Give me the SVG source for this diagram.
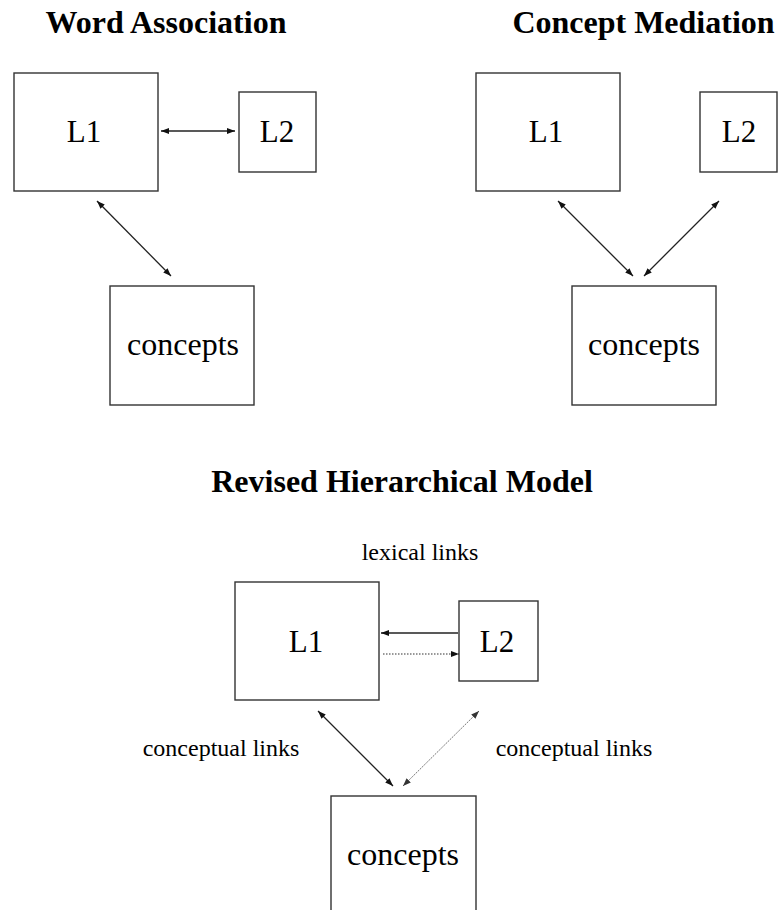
<svg xmlns="http://www.w3.org/2000/svg" width="779" height="910" viewBox="0 0 779 910">
  <defs>
    <marker id="tip" viewBox="0 0 8 6" refX="8" refY="3" markerWidth="8" markerHeight="6" markerUnits="userSpaceOnUse" orient="auto-start-reverse">
      <path d="M0,0 L8,3 L0,6 z" fill="#111"/>
    </marker>
    <marker id="tipGray" viewBox="0 0 8 6" refX="8" refY="3" markerWidth="8" markerHeight="6" markerUnits="userSpaceOnUse" orient="auto-start-reverse">
      <path d="M0,0 L8,3 L0,6 z" fill="#333"/>
    </marker>
  </defs>
  <style>
    .box { fill: #ffffff; stroke: #333333; stroke-width: 1.4; }
    .title { font-family: "Liberation Serif", "Times New Roman", serif; font-weight: bold; font-size: 32px; fill: #000; text-anchor: middle; }
    .lbl { font-family: "Liberation Serif", "Times New Roman", serif; font-size: 31px; fill: #000; text-anchor: middle; }
    .big { font-family: "Liberation Serif", "Times New Roman", serif; font-size: 32px; fill: #000; text-anchor: middle; }
    .note { font-family: "Liberation Serif", "Times New Roman", serif; font-size: 24px; fill: #000; text-anchor: middle; }
    .link { stroke: #222; stroke-width: 1.3; fill: none; marker-start: url(#tip); marker-end: url(#tip); }
    .faint { stroke: #777; stroke-width: 1; stroke-dasharray: 2 1; fill: none; marker-start: url(#tipGray); marker-end: url(#tipGray); }
    .one { stroke: #222; stroke-width: 1.3; fill: none; marker-end: url(#tip); }
    .dotted { stroke: #333; stroke-width: 1.2; stroke-dasharray: 1.5 1.5; fill: none; marker-end: url(#tip); }
  </style>
  <rect width="779" height="910" fill="#ffffff"/>

  <!-- Titles -->
  <text class="title" x="166" y="33">Word Association</text>
  <text class="title" x="643.5" y="33">Concept Mediation</text>
  <text class="title" x="402" y="492">Revised Hierarchical Model</text>

  <!-- Word Association model -->
  <g id="wa-l1">
    <rect class="box" x="14" y="73" width="144" height="118"/>
    <text class="lbl" x="84" y="142">L1</text>
  </g>
  <g id="wa-l2">
    <rect class="box" x="239" y="92" width="77" height="80"/>
    <text class="lbl" x="277" y="142">L2</text>
  </g>
  <g id="wa-concepts">
    <rect class="box" x="110" y="286" width="144" height="119"/>
    <text class="big" x="183" y="355">concepts</text>
  </g>

  <!-- Concept Mediation model -->
  <g id="cm-l1">
    <rect class="box" x="476" y="73" width="144" height="118"/>
    <text class="lbl" x="546" y="142">L1</text>
  </g>
  <g id="cm-l2">
    <rect class="box" x="700" y="92" width="77" height="80"/>
    <text class="lbl" x="739" y="142">L2</text>
  </g>
  <g id="cm-concepts">
    <rect class="box" x="572" y="286" width="144" height="119"/>
    <text class="big" x="644" y="355">concepts</text>
  </g>

  <!-- Revised Hierarchical Model -->
  <g id="rhm-l1">
    <rect class="box" x="235" y="582" width="144" height="118"/>
    <text class="lbl" x="306" y="652">L1</text>
  </g>
  <g id="rhm-l2">
    <rect class="box" x="459" y="601" width="79" height="80"/>
    <text class="lbl" x="497" y="652">L2</text>
  </g>
  <g id="rhm-concepts">
    <rect class="box" x="331" y="796" width="145" height="130"/>
    <text class="big" x="403" y="865">concepts</text>
  </g>
  <text class="note" x="420" y="560">lexical links</text>
  <text class="note" x="221" y="756">conceptual links</text>
  <text class="note" x="574" y="756">conceptual links</text>

  <!-- Connectors -->
  <g id="connectors">
    <line class="link" x1="161" y1="131" x2="235" y2="131"/>
    <line class="link" x1="97" y1="201" x2="171" y2="276"/>
    <line class="link" x1="558" y1="201" x2="633" y2="276"/>
    <line class="link" x1="719" y1="201" x2="644" y2="276"/>
    <line class="one" x1="458" y1="633" x2="381" y2="633"/>
    <line class="dotted" x1="383" y1="654" x2="459" y2="654"/>
    <line class="link" x1="318" y1="711" x2="393" y2="786"/>
    <line class="faint" x1="479" y1="711" x2="403" y2="786"/>
  </g>
</svg>
